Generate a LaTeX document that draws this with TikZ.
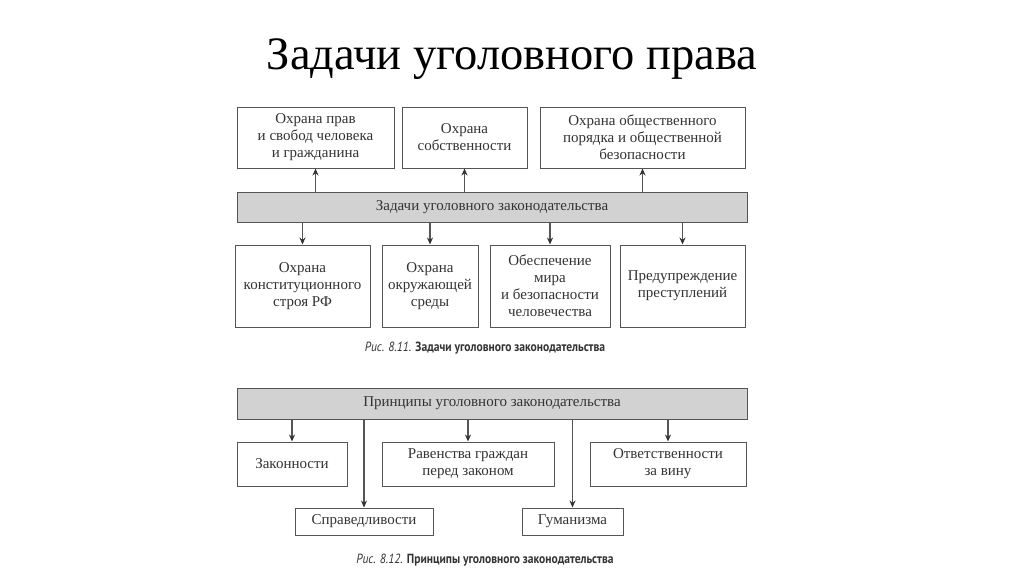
\documentclass[tikz,border=0pt]{standalone}
\usepackage{fontspec}
\setmainfont{Liberation Serif}
\newfontfamily\capfont[FakeStretch=0.87]{PT Sans}
\usetikzlibrary{arrows.meta}
\definecolor{txt}{HTML}{333333}
\definecolor{ln}{HTML}{555555}
\definecolor{barfill}{HTML}{D2D2D2}
\tikzset{
  box/.style={draw=ln, line width=1pt, fill=white, text=txt, align=center, inner sep=0pt, font=\fontsize{15}{17}\selectfont},
  bar/.style={draw=ln, line width=1pt, fill=barfill, text=txt, align=center, inner sep=0pt, minimum width=510pt, minimum height=30pt, font=\fontsize{15}{17}\selectfont},
  arr/.style={draw=ln, line width=1.1pt, -{Stealth[length=7pt,width=6pt,color=txt]}},
  capt/.style={text=txt, font=\capfont\fontsize{13.3}{15}\selectfont},
}
\begin{document}
\begin{tikzpicture}[x=1pt,y=-1pt]
\useasboundingbox[fill=white] (0,0) rectangle (1024,574);
\node[text=black, font=\fontsize{46.5}{48}\selectfont] (title) at (512,59) {Задачи уголовного права};
% Figure 8.11
\node[box, minimum width=157pt, minimum height=61pt] (t1) at (315.5,137.5) {Охрана прав\\и свобод человека\\и гражданина};
\node[box, minimum width=125pt, minimum height=61pt] (t2) at (464.5,137.5) {Охрана\\собственности};
\node[box, minimum width=205pt, minimum height=61pt] (t3) at (642.5,137.5) {Охрана общественного\\порядка и общественной\\безопасности};
\node[bar] (b1) at (492,207) {Задачи уголовного законодательства};
\node[box, minimum width=135pt, minimum height=82pt] (d1) at (302.5,286) {Охрана\\конституционного\\строя РФ};
\node[box, minimum width=96pt, minimum height=82pt] (d2) at (430,286) {Охрана\\окружающей\\среды};
\node[box, minimum width=120pt, minimum height=82pt] (d3) at (550,286) {Обеспечение\\мира\\и безопасности\\человечества};
\node[box, minimum width=125pt, minimum height=82pt] (d4) at (682.5,286) {Предупреждение\\преступлений};
\draw[arr] (b1.north -| t1) -- (t1.south);
\draw[arr] (b1.north -| t2) -- (t2.south);
\draw[arr] (b1.north -| t3) -- (t3.south);
\draw[arr] (b1.south -| d1) -- (d1.north);
\draw[arr] (b1.south -| d2) -- (d2.north);
\draw[arr] (b1.south -| d3) -- (d3.north);
\draw[arr] (b1.south -| d4) -- (d4.north);
\node[capt] (c1) at (485,348) {\textit{Рис. 8.11.} \textbf{Задачи уголовного законодательства}};
% Figure 8.12
\node[bar, minimum height=31pt] (b2) at (492,403.5) {Принципы уголовного законодательства};
\node[box, minimum width=110pt, minimum height=44pt] (p1) at (292,464) {Законности};
\node[box, minimum width=172pt, minimum height=44pt] (p2) at (468,464) {Равенства граждан\\перед законом};
\node[box, minimum width=156pt, minimum height=44pt] (p3) at (668,464) {Ответственности\\за вину};
\node[box, minimum width=138pt, minimum height=27pt] (p4) at (364,521.5) {Справедливости};
\node[box, minimum width=101pt, minimum height=27pt] (p5) at (572.5,521.5) {Гуманизма};
\draw[arr] (b2.south -| p1) -- (p1.north);
\draw[arr] (b2.south -| p2) -- (p2.north);
\draw[arr] (b2.south -| p3) -- (p3.north);
\draw[arr] (b2.south -| p4) -- (p4.north);
\draw[arr] (b2.south -| p5) -- (p5.north);
\node[capt] (c2) at (485,560) {\textit{Рис. 8.12.} \textbf{Принципы уголовного законодательства}};
\end{tikzpicture}
\end{document}
